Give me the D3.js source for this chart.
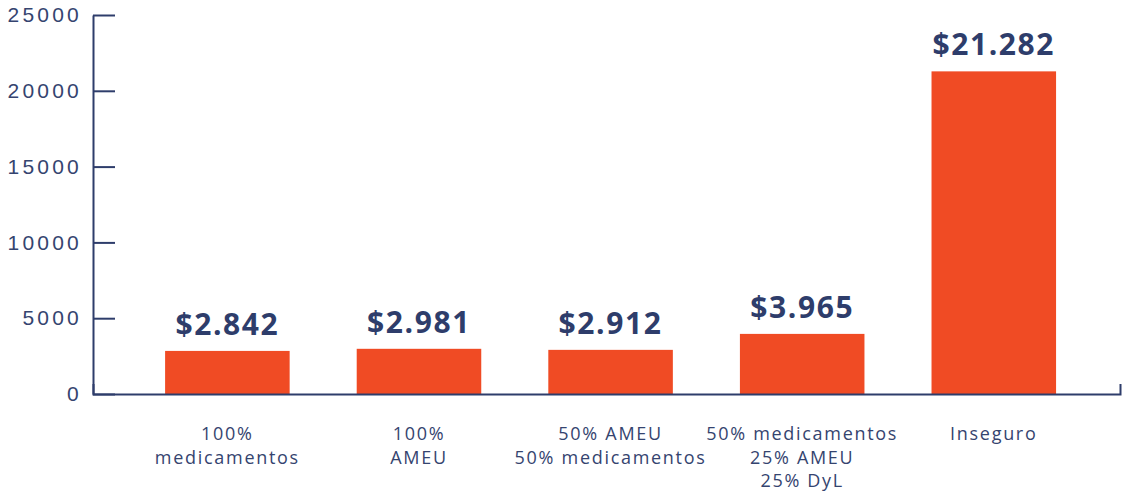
<!DOCTYPE html>
<html>
<head>
<meta charset="utf-8">
<script src="https://cdn.jsdelivr.net/npm/d3@7"></script>
<style>
  body { margin: 0; background: #fff; }
  svg { display: block; font-family: "Open Sans", sans-serif; }
  .axis path, .axis line { stroke: #2e3d6b; stroke-width: 2; }
  .axis text { fill: #35446f; font-size: 21px; letter-spacing: 3.2px; }
  .value-label { fill: #2e3d6b; font-size: 30px; font-weight: 700; letter-spacing: 1.6px; }
  .cat-label { fill: #35446f; font-size: 18px; letter-spacing: 1.7px; }
</style>
</head>
<body>
<svg id="chart" width="1124" height="492"></svg>
<script>
// Donnees
const categories = ["100%\nmedicamentos", "100%\nAMEU", "50% AMEU\n50% medicamentos", "50% medicamentos\n25% AMEU\n25% DyL", "Inseguro"];
const values = [2842, 2981, 2912, 3965, 21282];
const valueLabels = ["$2.842", "$2.981", "$2.912", "$3.965", "$21.282"];
const yTicks = [0, 5000, 10000, 15000, 20000, 25000];

const svg = d3.select("#chart");
const margin = { left: 93, right: 1120, top: 15, bottom: 394 };

const x = d3.scaleBand()
    .domain(d3.range(categories.length))
    .range([margin.left, margin.right])
    .paddingInner(0.35)
    .paddingOuter(0.355)
    .align(0.53);

const y = d3.scaleLinear()
    .domain([0, 25000])
    .range([margin.bottom, margin.top]);

// Axe Y : ticks vers l'interieur
svg.append("g")
    .attr("class", "axis")
    .attr("transform", "translate(" + margin.left + ",0)")
    .call(d3.axisLeft(y).tickValues(yTicks).tickFormat(d3.format("d"))
        .tickSize(-22).tickSizeOuter(0).tickPadding(11));

// Barres
svg.selectAll(".bar")
    .data(values)
    .enter()
    .append("rect")
    .attr("class", "bar")
    .attr("fill", "#f04b24")
    .attr("x", function(d, i) { return x(i); })
    .attr("y", function(d) { return y(d); })
    .attr("width", x.bandwidth())
    .attr("height", function(d) { return y(0) - y(d); });

// Axe X
svg.append("g")
    .attr("class", "axis")
    .attr("transform", "translate(0," + margin.bottom + ")")
    .call(d3.axisBottom(x).tickSize(0).tickSizeOuter(-10).tickFormat(""));

// Valeurs au-dessus des barres
svg.selectAll(".value-label")
    .data(values)
    .enter()
    .append("text")
    .attr("class", "value-label")
    .attr("text-anchor", "middle")
    .attr("x", function(d, i) { return x(i) + x.bandwidth() / 2; })
    .attr("y", function(d) { return y(d) - 16; })
    .text(function(d, i) { return valueLabels[i]; });

// Libelles des categories sur plusieurs lignes
svg.selectAll(".cat-label")
    .data(categories)
    .enter()
    .append("text")
    .attr("class", "cat-label")
    .attr("text-anchor", "middle")
    .each(function(d, i) {
        const cx = x(i) + x.bandwidth() / 2;
        d3.select(this).selectAll("tspan")
            .data(d.split("\n"))
            .enter()
            .append("tspan")
            .attr("x", cx)
            .attr("y", function(_, k) { return 440 + k * 23.5; })
            .text(function(line) { return line; });
    });
</script>
</body>
</html>
